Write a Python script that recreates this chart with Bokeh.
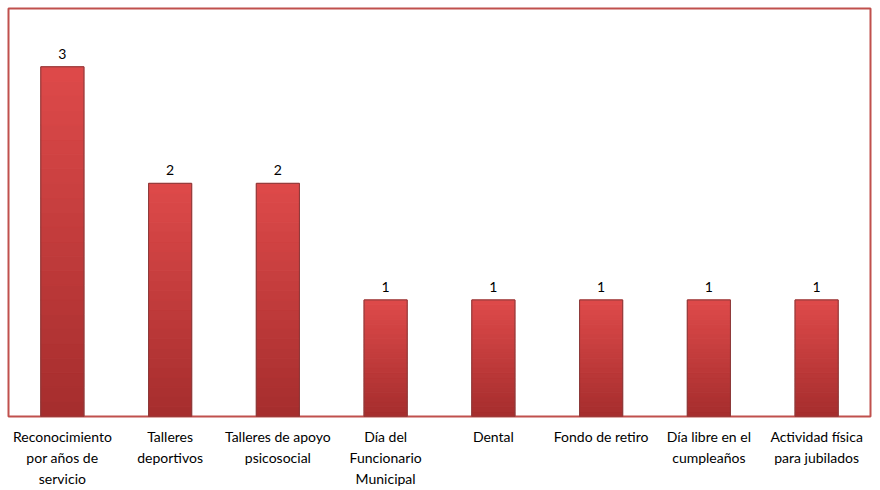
from bokeh.plotting import figure
from bokeh.models import ColumnDataSource, Range1d, FactorRange
from bokeh.core.properties import value
from bokeh.embed import file_html
from bokeh.resources import INLINE

categories = ["Reconocimiento\npor años de\nservicio", "Talleres\ndeportivos",
              "Talleres de apoyo\npsicosocial", "Día del\nFuncionario\nMunicipal",
              "Dental", "Fondo de retiro", "Día libre en el\ncumpleaños",
              "Actividad física\npara jubilados"]
values = [3, 2, 2, 1, 1, 1, 1, 1]

p = figure(width=880, height=490, x_range=FactorRange(*categories), y_range=Range1d(0, 3.5),
           output_backend="svg", toolbar_location=None,
           min_border_left=8, min_border_right=10, min_border_top=8, min_border_bottom=73)
p.outline_line_color = "#c0504d"
p.outline_line_width = 2
p.background_fill_color = "white"
p.border_fill_color = "white"
p.grid.visible = False
p.yaxis.visible = False

# gradient bars made of stacked slices
n = 24
def lerp(c1, c2, t):
    return "#%02x%02x%02x" % tuple(int(round(a + (b - a) * t)) for a, b in zip(c1, c2))
top_c = (222, 74, 74)
bot_c = (165, 45, 45)
W = 0.40
for i in range(n):
    t0, t1 = i / n, (i + 1) / n
    col = lerp(bot_c, top_c, (i + 0.5) / n)
    src = ColumnDataSource(dict(x=categories, b=[v * t0 for v in values], t=[v * t1 for v in values]))
    p.vbar(x="x", bottom="b", top="t", width=W, source=src,
           fill_color=col, line_color=col, line_width=1)

src = ColumnDataSource(dict(x=categories, v=values, lab=[str(v) for v in values]))
p.vbar(x="x", top="v", width=W, source=src, fill_color=None, line_color="#8a3a3a", line_width=1)
p.text(x="x", y="v", text="lab", source=src, text_align="center", text_baseline="bottom",
       y_offset=-8, text_font=value("Lato"), text_font_size="14px", text_color="#000000")

p.xaxis.axis_line_color = None
p.xaxis.major_tick_line_color = None
p.xaxis.minor_tick_line_color = None
p.xaxis.major_label_standoff = 5
p.xaxis.major_label_text_font = "Lato"
p.xaxis.major_label_text_font_size = "14px"
p.xaxis.major_label_text_color = "#000000"
p.xaxis.major_label_text_line_height = 1.25

open("out.html", "w").write(file_html(p, INLINE))
